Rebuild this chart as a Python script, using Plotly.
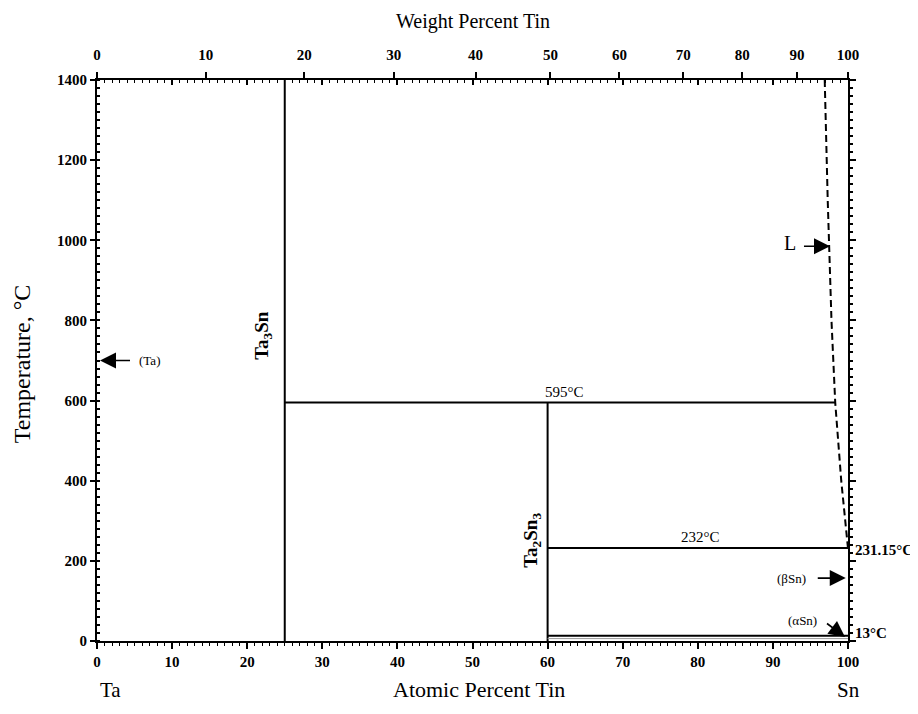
import plotly.graph_objects as go

# ---- data (atomic percent Sn, temperature in °C) ----
ta3sn_x = [25, 25]
ta3sn_y = [0, 1400]
ta2sn3_x = [60, 60]
ta2sn3_y = [0, 595]
peritectic_x = [25, 98.3]
peritectic_y = [595, 595]
eutectic_x = [60, 100]
eutectic_y = [232, 232]
transform_x = [60, 100]
transform_y = [13, 13]
liquidus_x = [96.9, 97.3, 97.8, 98.3, 99.1, 100]
liquidus_y = [1400, 1100, 800, 595, 400, 231.15]

weight_ticks = [0, 10, 20, 30, 40, 50, 60, 70, 80, 90, 100]
M_SN, M_TA = 118.71, 180.948


def wt_to_at(w):
    if w <= 0:
        return 0.0
    if w >= 100:
        return 100.0
    a = w / M_SN
    b = (100 - w) / M_TA
    return 100 * a / (a + b)


weight_pos = [wt_to_at(w) for w in weight_ticks]
weight_text = [str(w) for w in weight_ticks]

FONT = "Liberation Serif"
BLK = "black"

fig = go.Figure()

line = dict(color=BLK, width=2)
fig.add_trace(go.Scatter(x=ta3sn_x, y=ta3sn_y, mode="lines", line=line, hoverinfo="skip"))
fig.add_trace(go.Scatter(x=ta2sn3_x, y=ta2sn3_y, mode="lines", line=line, hoverinfo="skip"))
fig.add_trace(go.Scatter(x=peritectic_x, y=peritectic_y, mode="lines", line=line, hoverinfo="skip"))
fig.add_trace(go.Scatter(x=eutectic_x, y=eutectic_y, mode="lines", line=line,
                         xaxis="x2", yaxis="y", hoverinfo="skip"))
fig.add_trace(go.Scatter(x=transform_x, y=transform_y, mode="lines", line=line, hoverinfo="skip"))
fig.add_trace(go.Scatter(x=transform_x, y=[6, 6], mode="lines",
                         line=dict(color="#9a9a9a", width=1), hoverinfo="skip"))
fig.add_trace(go.Scatter(x=liquidus_x, y=liquidus_y, mode="lines",
                         line=dict(color=BLK, width=2, dash="7px,4px"),
                         xaxis="x3", yaxis="y2", hoverinfo="skip"))

tickfont = dict(family=FONT, size=15, color=BLK, weight="bold")
common_x = dict(range=[0, 100], showgrid=False, zeroline=False, fixedrange=True)
common_y = dict(range=[0, 1400], showgrid=False, zeroline=False, fixedrange=True)

fig.update_layout(
    width=910, height=706,
    margin=dict(l=89, r=70, t=72, b=73, autoexpand=False),
    paper_bgcolor="white", plot_bgcolor="white",
    showlegend=False,
    font=dict(family=FONT, color=BLK),
    xaxis=dict(**common_x, anchor="y", side="bottom",
               showline=True, linewidth=2, linecolor=BLK,
               ticks="outside", ticklen=6, tickwidth=1.5, tickcolor=BLK,
               dtick=10, tick0=0, tickfont=tickfont,
               minor=dict(dtick=1, ticks="outside", ticklen=3, tickwidth=1, tickcolor=BLK, showgrid=False)),
    xaxis2=dict(**common_x, anchor="y", overlaying="x", side="top",
                showline=True, linewidth=2, linecolor=BLK,
                ticks="outside", ticklen=6, tickwidth=1.5, tickcolor=BLK,
                tickmode="array", tickvals=weight_pos, ticktext=weight_text,
                tickfont=tickfont, ticklabelstandoff=6),
    xaxis3=dict(**common_x, anchor="y", overlaying="x", side="top",
                showline=False, showticklabels=False,
                ticks="inside", ticklen=5, tickwidth=1.5, tickcolor=BLK, dtick=10, tick0=0,
                minor=dict(dtick=1, ticks="inside", ticklen=2.5, tickwidth=1, tickcolor=BLK, showgrid=False)),
    yaxis=dict(**common_y, anchor="x", side="left",
               showline=True, linewidth=2, linecolor=BLK,
               ticks="outside", ticklen=5, tickwidth=1.5, tickcolor=BLK,
               dtick=200, tick0=0, tickfont=tickfont,
               minor=dict(dtick=20, ticks="inside", ticklen=3, tickwidth=1.5, tickcolor=BLK, showgrid=False)),
    yaxis2=dict(**common_y, anchor="x", overlaying="y", side="right",
                showline=True, linewidth=2, linecolor=BLK, showticklabels=False,
                ticks="outside", ticklen=6, tickwidth=1.5, tickcolor=BLK, dtick=200, tick0=0,
                minor=dict(dtick=20, ticks="outside", ticklen=3, tickwidth=1.5, tickcolor=BLK, showgrid=False)),
)

ann = []


def txt(text, x, y, size=11, xanchor="center", yanchor="middle", angle=0, xref="x", yref="y",
        weight="normal", xshift=0, yshift=0):
    ann.append(dict(text=text, x=x, y=y, xref=xref, yref=yref, showarrow=False,
                    xanchor=xanchor, yanchor=yanchor, textangle=angle,
                    xshift=xshift, yshift=yshift,
                    font=dict(family=FONT, size=size, color=BLK, weight=weight)))


def arrow(x, y, ax, ay):
    ann.append(dict(text=" ", x=x, y=y, xref="x", yref="y", ax=ax, ay=ay,
                    axref="pixel", ayref="pixel", showarrow=True,
                    font=dict(family=FONT, size=4, color=BLK),
                    arrowhead=2, arrowsize=2.0, arrowwidth=1.6, arrowcolor=BLK))


# axis titles
txt("Weight Percent Tin", 0.5, 1.1283, size=20, yanchor="top", xref="paper", yref="paper")
txt("Atomic Percent Tin", 0.5087, -0.087, size=22, xref="paper", yref="paper")
txt("Temperature, °C", -0.100, 0.495, size=24, angle=-90, xref="paper", yref="paper")
txt("Ta", 0.018, -0.087, size=21, xref="paper", yref="paper")
txt("Sn", 1.0, -0.087, size=21, xref="paper", yref="paper")

# phase labels
txt("Ta<sub>3</sub>Sn", 22.1, 764, size=19, angle=-90, weight="bold")
txt("Ta<sub>2</sub>Sn<sub>3</sub>", 57.9, 252, size=19, angle=-90, weight="bold")
txt("595°C", 62.3, 595, size=15, yanchor="bottom", yshift=1)
txt("232°C", 80.3, 232, size=15, yanchor="bottom", yshift=1)
txt("231.15°C", 100, 226, size=15, xanchor="left", xshift=5, weight="bold")
txt("13°C", 100, 20, size=15, xanchor="left", xshift=5, weight="bold")
txt("(Ta)", 5.3, 700, size=13, xanchor="left")
txt("(βSn)", 92.5, 157, size=13)
txt("(αSn)", 94.0, 50, size=13)
txt("L", 92.3, 993, size=20)

# arrows
arrow(0.4, 700, 32, 0)
arrow(97.6, 985, -28, 0)
arrow(99.7, 157, -30, 0)
arrow(99.6, 10, -20, -15)

fig.update_layout(annotations=ann)

fig.write_html("out.html")
